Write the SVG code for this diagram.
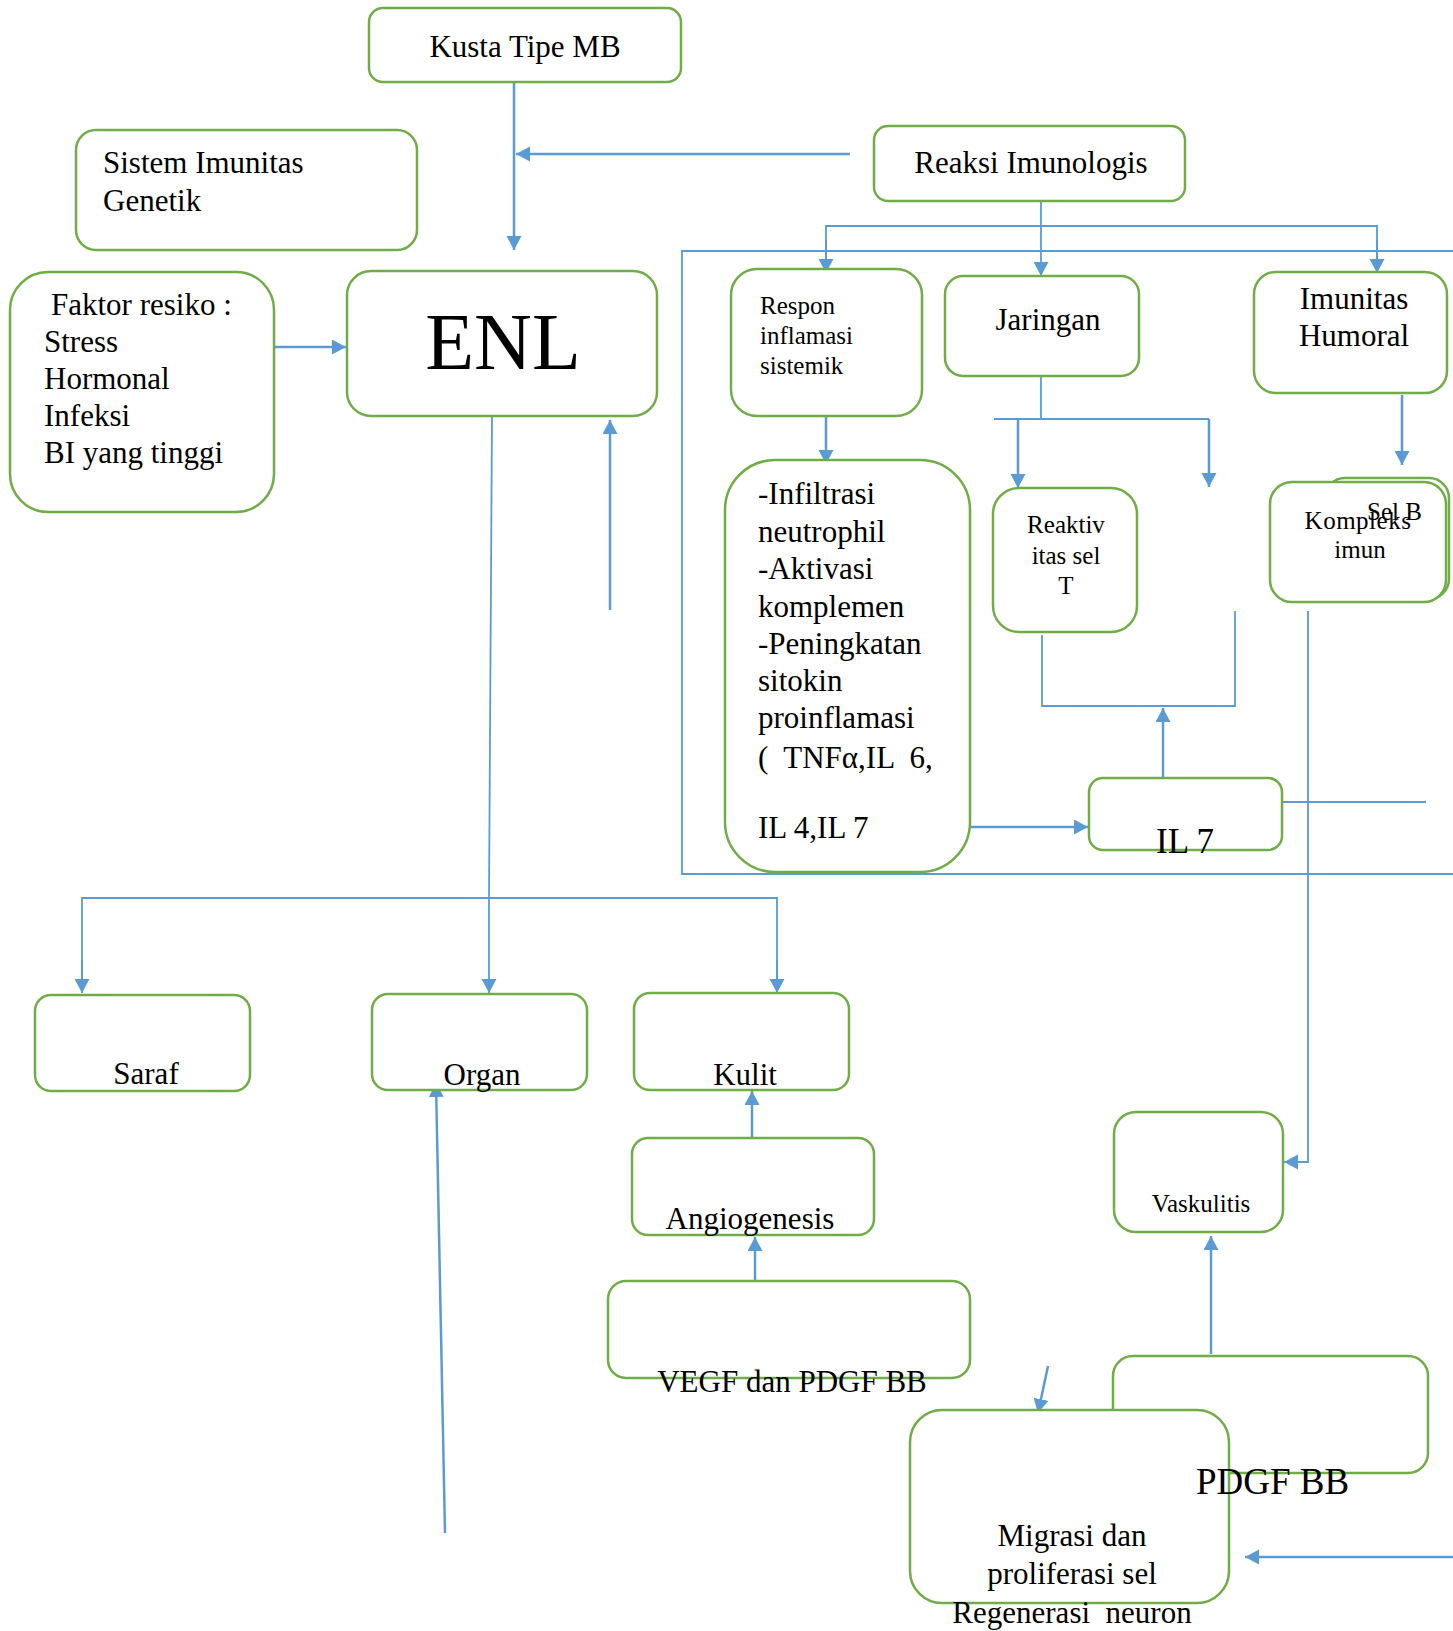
<svg xmlns="http://www.w3.org/2000/svg" width="1453" height="1631" viewBox="0 0 1453 1631">
<style>
.box{fill:#fff;stroke:#70AD47;stroke-width:2.5}
.ln{fill:none;stroke:#5B9BD5;stroke-width:2.5}
.th{fill:none;stroke:#5B9BD5;stroke-width:1.8}
.t{font-family:"Liberation Serif","Times New Roman",serif;fill:#000;font-size:31px}
.s{font-size:25px}
.m{text-anchor:middle}
</style>
<defs>
<marker id="ah" markerUnits="userSpaceOnUse" markerWidth="16" markerHeight="16" refX="14" refY="7.5" orient="auto">
<path d="M0,0 L14,7.5 L0,15 z" fill="#5B9BD5"/>
</marker>
</defs>
<rect width="1453" height="1631" fill="#fff"/>

<g id="connectors">
<polyline class="th" points="1453,251 682,251 682,874 1453,874"/>
<line class="ln" x1="514" y1="82" x2="514" y2="250" marker-end="url(#ah)"/>
<line class="ln" x1="850" y1="154" x2="516" y2="154" marker-end="url(#ah)"/>
<line class="ln" x1="274" y1="347" x2="346" y2="347" marker-end="url(#ah)"/>
<line class="ln" x1="610" y1="610" x2="610" y2="420" marker-end="url(#ah)"/>
<line class="th" x1="1041" y1="201" x2="1041" y2="276" marker-end="url(#ah)"/>
<polyline class="th" points="826,273 826,226 1377,226 1377,273" />
<line class="th" x1="826" y1="240" x2="826" y2="273" marker-end="url(#ah)"/>
<line class="th" x1="1377" y1="240" x2="1377" y2="273" marker-end="url(#ah)"/>
<line class="ln" x1="826" y1="416" x2="826" y2="464" marker-end="url(#ah)"/>
<polyline class="th" points="1041,376 1041,419"/>
<polyline class="th" points="994,419 1209,419"/>
<line class="ln" x1="1018" y1="419" x2="1018" y2="488" marker-end="url(#ah)"/>
<line class="ln" x1="1209" y1="419" x2="1209" y2="487" marker-end="url(#ah)"/>
<line class="ln" x1="1402" y1="395" x2="1402" y2="465" marker-end="url(#ah)"/>
<polyline class="th" points="1042,635 1042,706 1235,706 1235,611"/>
<line class="ln" x1="1163" y1="778" x2="1163" y2="708" marker-end="url(#ah)"/>
<line class="ln" x1="970" y1="827" x2="1088" y2="827" marker-end="url(#ah)"/>
<line class="th" x1="1282" y1="802" x2="1426" y2="802"/>
<polyline class="th" points="1308,611 1308,1162 1284,1162" marker-end="url(#ah)"/>
<line class="th" x1="492" y1="416" x2="489" y2="898"/>
<polyline class="th" points="82,993 82,898 777,898 777,993"/>
<line class="th" x1="82" y1="960" x2="82" y2="993" marker-end="url(#ah)"/>
<line class="th" x1="489" y1="898" x2="489" y2="993" marker-end="url(#ah)"/>
<line class="th" x1="777" y1="960" x2="777" y2="993" marker-end="url(#ah)"/>
<line class="ln" x1="445" y1="1533" x2="436" y2="1083" marker-end="url(#ah)"/>
<line class="ln" x1="752" y1="1138" x2="752" y2="1091" marker-end="url(#ah)"/>
<line class="ln" x1="755" y1="1281" x2="755" y2="1237" marker-end="url(#ah)"/>
<line class="ln" x1="1211" y1="1354" x2="1211" y2="1236" marker-end="url(#ah)"/>
<line class="ln" x1="1048" y1="1366" x2="1038" y2="1413" marker-end="url(#ah)"/>
<line class="ln" x1="1453" y1="1557" x2="1245" y2="1557" marker-end="url(#ah)"/>
</g>

<g id="kusta"><rect class="box" x="369" y="8" width="312" height="74" rx="14"/><text class="t m" x="525" y="57">Kusta Tipe MB</text></g>
<g id="sistem"><rect class="box" x="76" y="130" width="341" height="120" rx="20"/><text class="t" x="103" y="173">Sistem Imunitas</text><text class="t" x="103" y="211">Genetik</text></g>
<g id="faktor"><rect class="box" x="10" y="272" width="264" height="240" rx="38"/>
<text class="t" x="51" y="315">Faktor resiko :</text><text class="t" x="44" y="352">Stress</text><text class="t" x="44" y="389">Hormonal</text><text class="t" x="44" y="426">Infeksi</text><text class="t" x="44" y="463">BI yang tinggi</text></g>
<g id="enl"><rect class="box" x="347" y="271" width="310" height="145" rx="24"/><text class="t m" x="503" y="369" style="font-size:80px">ENL</text></g>
<g id="reaksi"><rect class="box" x="874" y="126" width="311" height="75" rx="14"/><text class="t m" x="1031" y="173">Reaksi Imunologis</text></g>
<g id="respon"><rect class="box" x="731" y="269" width="191" height="147" rx="26"/><text class="t s" x="760" y="314">Respon</text><text class="t s" x="760" y="344">inflamasi</text><text class="t s" x="760" y="374">sistemik</text></g>
<g id="jaringan"><rect class="box" x="945" y="276" width="194" height="100" rx="18"/><text class="t m" x="1048" y="330">Jaringan</text></g>
<g id="humoral"><rect class="box" x="1254" y="272" width="193" height="121" rx="22"/><text class="t m" x="1354" y="309">Imunitas</text><text class="t m" x="1354" y="346">Humoral</text></g>
<g id="infiltrasi"><rect class="box" x="725" y="460" width="245" height="412" rx="50"/>
<text class="t" x="758" y="504">-Infiltrasi</text><text class="t" x="758" y="542">neutrophil</text><text class="t" x="758" y="579">-Aktivasi</text><text class="t" x="758" y="617">komplemen</text><text class="t" x="758" y="654">-Peningkatan</text><text class="t" x="758" y="691">sitokin</text><text class="t" x="758" y="728">proinflamasi</text><text class="t" x="758" y="768" xml:space="preserve">(  TNFα,IL  6,</text><text class="t" x="758" y="838">IL 4,IL 7</text></g>
<g id="reaktivitas"><rect class="box" x="993" y="488" width="144" height="144" rx="26"/><text class="t s m" x="1066" y="533">Reaktiv</text><text class="t s m" x="1066" y="564">itas sel</text><text class="t s m" x="1066" y="594">T</text></g>
<g id="selb"><rect class="box" x="1325" y="478" width="124" height="121" rx="20"/></g>
<g id="kompleks"><rect class="box" x="1270" y="482" width="176" height="120" rx="22"/><text class="t s m" x="1358" y="529" style="letter-spacing:0.5px">Kompleks</text><text class="t s m" x="1360" y="558">imun</text></g>
<g id="selb-label"><text class="t s" x="1367" y="520">Sel B</text></g>
<g id="il7"><rect class="box" x="1089" y="778" width="193" height="72" rx="14"/><text class="t" x="1156" y="853" style="font-size:35px">IL 7</text></g>
<g id="saraf"><rect class="box" x="35" y="995" width="215" height="96" rx="16"/><text class="t m" x="146" y="1084">Saraf</text></g>
<g id="organ"><rect class="box" x="372" y="994" width="215" height="96" rx="16"/><text class="t m" x="482" y="1085">Organ</text></g>
<g id="kulit"><rect class="box" x="634" y="993" width="215" height="97" rx="16"/><text class="t m" x="745" y="1085">Kulit</text></g>
<g id="angiogenesis"><rect class="box" x="632" y="1138" width="242" height="97" rx="16"/><text class="t m" x="750" y="1229">Angiogenesis</text></g>
<g id="vegf"><rect class="box" x="608" y="1281" width="362" height="97" rx="18"/><text class="t m" x="792" y="1392">VEGF dan PDGF BB</text></g>
<g id="vaskulitis"><rect class="box" x="1114" y="1112" width="169" height="120" rx="22"/><text class="t s m" x="1201" y="1212">Vaskulitis</text></g>
<g id="pdgf"><rect class="box" x="1113" y="1356" width="315" height="117" rx="20"/></g>
<g id="migrasi"><rect class="box" x="910" y="1410" width="319" height="193" rx="32"/><text class="t m" x="1072" y="1546">Migrasi dan</text><text class="t m" x="1072" y="1584">proliferasi sel</text><text class="t m" x="1072" y="1623" xml:space="preserve">Regenerasi  neuron</text></g>
<g id="pdgf-label"><text class="t" x="1196" y="1494" style="font-size:37px">PDGF BB</text></g>
</svg>
